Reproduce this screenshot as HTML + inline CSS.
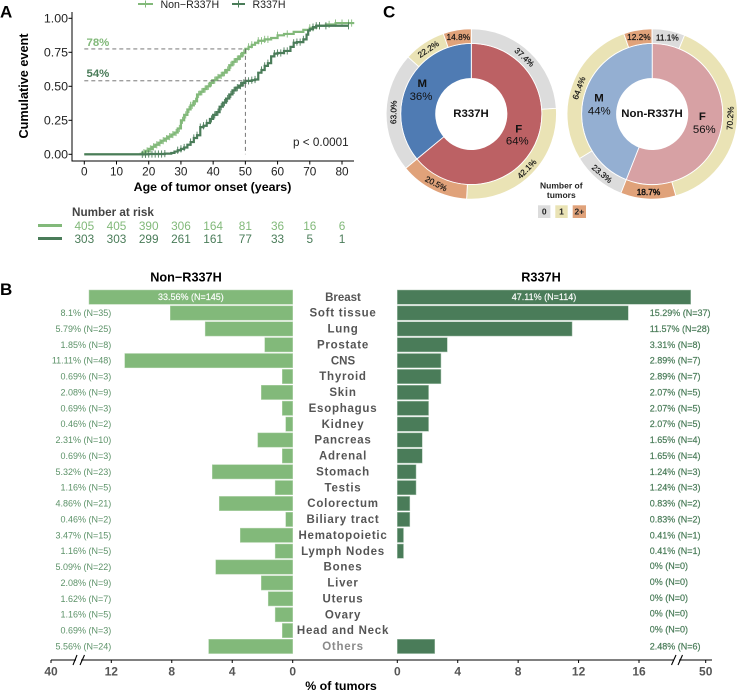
<!DOCTYPE html>
<html lang="en">
<head>
<meta charset="utf-8">
<title>R337H tumor onset figure</title>
<style>
html,body{margin:0;padding:0;background:#fff}
svg{display:block;font-family:"Liberation Sans",Arial,sans-serif}
</style>
</head>
<body>
<svg id="fig" xmlns="http://www.w3.org/2000/svg" width="738" height="691" viewBox="0 0 738 691">
  <text x="0" y="17.5" font-size="17" font-weight="bold" fill="#000">A</text>
  <text x="0" y="295" font-size="17" font-weight="bold" fill="#000">B</text>
  <text x="383" y="17.5" font-size="17" font-weight="bold" fill="#000">C</text>

  <g>
    <line x1="138" x2="153" y1="4" y2="4" stroke="#82B97A" stroke-width="2"/>
    <line x1="145.5" x2="145.5" y1="0.5" y2="7.5" stroke="#82B97A" stroke-width="1"/>
    <text x="160.5" y="8" font-size="10.6" fill="#222">Non−R337H</text>
    <line x1="232" x2="245" y1="4" y2="4" stroke="#4A7C59" stroke-width="2"/>
    <line x1="238.5" x2="238.5" y1="0.5" y2="7.5" stroke="#4A7C59" stroke-width="1"/>
    <text x="252.5" y="8" font-size="10.6" fill="#222">R337H</text>
  </g>

  <g id="km"></g>
  <line x1="72" x2="72" y1="12" y2="161" stroke="#000" stroke-width="1"/>
  <line x1="71.5" x2="354" y1="161" y2="161" stroke="#000" stroke-width="1"/>
  <text transform="translate(28,86) rotate(-90)" text-anchor="middle" font-size="12.7" font-weight="bold" fill="#000">Cumulative event</text>
  <text x="212.5" y="191" text-anchor="middle" font-size="12.4" font-weight="bold" fill="#000">Age of tumor onset (years)</text>
  <text x="293" y="146" font-size="11.7" fill="#222">p &lt; 0.0001</text>
  <text x="86.5" y="46" font-size="11.4" font-weight="bold" fill="#82B97A">78%</text>
  <text x="86.5" y="77" font-size="11.4" font-weight="bold" fill="#4A7C59">54%</text>

  <g id="risk">
    <text x="72" y="216" font-size="11.7" font-weight="bold" fill="#444">Number at risk</text>
    <line x1="38" x2="62" y1="225.5" y2="225.5" stroke="#82B97A" stroke-width="3"/>
    <line x1="38" x2="62" y1="238.5" y2="238.5" stroke="#4A7C59" stroke-width="3"/>
  </g>

  <g id="donuts"></g>
  <g>
    <text x="561.3" y="188.5" text-anchor="middle" font-size="8.5" font-weight="bold" fill="#222">Number of</text>
    <text x="561.3" y="198" text-anchor="middle" font-size="8.5" font-weight="bold" fill="#222">tumors</text>
    <rect x="538" y="205.3" width="12.4" height="12.7" fill="#DCDCDC"/>
    <rect x="555.3" y="205.3" width="12.4" height="12.7" fill="#EAE3B5"/>
    <rect x="572.7" y="205.3" width="13.3" height="12.7" fill="#E0A27A"/>
    <text x="544.2" y="214.6" text-anchor="middle" font-size="8.5" font-weight="bold" fill="#222">0</text>
    <text x="561.5" y="214.6" text-anchor="middle" font-size="8.5" font-weight="bold" fill="#222">1</text>
    <text x="579.3" y="214.6" text-anchor="middle" font-size="8.5" font-weight="bold" fill="#222">2+</text>
  </g>

  <text x="186" y="281.5" text-anchor="middle" font-size="12.7" font-weight="bold" fill="#000">Non−R337H</text>
  <text x="541" y="281.5" text-anchor="middle" font-size="12.7" font-weight="bold" fill="#000">R337H</text>
  <g id="bars"></g>
  <line x1="51" x2="712" y1="660" y2="660" stroke="#000" stroke-width="1.1"/>
  <g id="barAxis"></g>
  <g>
    <rect x="76" y="658" width="5" height="4" fill="#fff"/>
    <line x1="73" y1="665" x2="77" y2="655" stroke="#000" stroke-width="1.1"/>
    <line x1="80" y1="665" x2="84.5" y2="655" stroke="#000" stroke-width="1.1"/>
    <rect x="674" y="658" width="5" height="4" fill="#fff"/>
    <line x1="671.5" y1="665" x2="676" y2="655" stroke="#000" stroke-width="1.1"/>
    <line x1="678" y1="665" x2="682.5" y2="655" stroke="#000" stroke-width="1.1"/>
  </g>
  <text x="341" y="690" text-anchor="middle" font-size="12.4" font-weight="bold" fill="#000">% of tumors</text>
</svg>

<script>
// ---- Panel A data ----
const kmAgesLight = [17.5,18,19,20,21,22,23,24,25,26,27,28,29,30,31,32,33,34,35,36,37,38,39,40,41,42,43,44,45,46,47,48,49,50,51,52,53,54,56,58,60,62,65,68,70,72,75,78];
const kmValuesLight = [0.003,0.012,0.025,0.04,0.055,0.07,0.085,0.10,0.115,0.13,0.145,0.16,0.19,0.25,0.29,0.33,0.36,0.39,0.44,0.46,0.48,0.50,0.525,0.545,0.565,0.58,0.60,0.62,0.655,0.68,0.70,0.72,0.745,0.775,0.79,0.805,0.82,0.835,0.845,0.855,0.875,0.885,0.90,0.915,0.93,0.945,0.955,0.965];
const kmEndLight = 83.8;
const kmAgesDark = [20,25,27,28,29,30,31,32,33,34,35,36,37,38,39,40,41,42,43,44,45,46,47,48,49,50,52,53,54,55,56,57,58,59,60,62,64,65,66,68,69,69.5,70,71,72];
const kmValuesDark = [0.002,0.005,0.01,0.02,0.03,0.04,0.05,0.07,0.09,0.12,0.14,0.20,0.21,0.23,0.26,0.29,0.31,0.35,0.38,0.41,0.44,0.47,0.49,0.505,0.525,0.54,0.545,0.55,0.60,0.62,0.65,0.67,0.72,0.74,0.745,0.76,0.79,0.82,0.825,0.845,0.88,0.91,0.92,0.935,0.945];
const kmEndDark = 82;
const censorLight = [18.5,19.5,20.5,21.5,22.5,23.5,24.5,25.5,26.5,27.5,28.5,29.5,30.5,31.5,32.5,33,33.5,34.5,35.5,36.5,37.5,38.5,39.5,40.5,41.5,42.5,43.5,44.5,45.5,46.5,47.5,48.5,49.5,51,52,54,55,56,57,60,63,70,71,73,76,78,80,82,83];
const censorDark = [18,19,20,21,22,23,24,25,29,30,31,33,34,35,36,37,38,39.5,40.5,41.5,42.5,43.5,44.5,45.5,46.5,47.5,48.5,49.5,51,52,53,55,56,57,59,60,61,62,63,65,66,67,68,71,72,73,75,82];
const kmXTicks = [0,10,20,30,40,50,60,70,80];
const kmYTicks = ['0.00','0.25','0.50','0.75','1.00'];
const refAge = [50];
const refLight = [0.775];
const refDark = [0.54];
const riskLight = [405,405,390,306,164,81,36,16,6];
const riskDark = [303,303,299,261,161,77,33,5,1];

// ---- Panel C data ----
const sexNames = ['F','M'];
const sexShareR337H = [64,36];
const sexShareNon = [56,44];
const tumorCountsR337HF = [37.4,42.1,20.5];
const tumorCountsR337HM = [63.0,22.2,14.8];
const tumorCountsNonF = [11.1,70.2,18.7];
const tumorCountsNonM = [23.3,64.4,12.2];

// ---- Panel B data ----
const sites = ['Breast','Soft tissue','Lung','Prostate','CNS','Thyroid','Skin','Esophagus','Kidney','Pancreas','Adrenal','Stomach','Testis','Colorectum','Biliary tract','Hematopoietic','Lymph Nodes','Bones','Liver','Uterus','Ovary','Head and Neck','Others'];
const pctNon = [33.56,8.1,5.79,1.85,11.11,0.69,2.08,0.69,0.46,2.31,0.69,5.32,1.16,4.86,0.46,3.47,1.16,5.09,2.08,1.62,1.16,0.69,5.56];
const countNon = [145,35,25,8,48,3,9,3,2,10,3,23,5,21,2,15,5,22,9,7,5,3,24];
const pctR337H = [47.11,15.29,11.57,3.31,2.89,2.89,2.07,2.07,2.07,1.65,1.65,1.24,1.24,0.83,0.83,0.41,0.41,0,0,0,0,0,2.48];
const countR337H = [114,37,28,8,7,7,5,5,5,4,4,3,3,2,2,1,1,0,0,0,0,0,6];
const barTicksLeft = [0,4,8,12,40];
const barTicksRight = [0,4,8,12,16,50];

const NS = 'http://www.w3.org/2000/svg';
function mk(parent, tag, attrs, txt) {
  const el = document.createElementNS(NS, tag);
  for (const k in attrs) el.setAttribute(k, attrs[k]);
  if (txt !== undefined) el.textContent = txt;
  parent.appendChild(el);
  return el;
}
const LIGHT = '#82B97A', DARK = '#4A7C59';

// ---- Panel A ----
const xAge = a => 84.3 + a * 3.2213;
const yCum = v => 154.3 - v * 136;
const km = document.getElementById('km');

kmXTicks.forEach(t => {
  const tick = mk(km, 'line', {x1: xAge(t), x2: xAge(t), y1: 161, y2: 164.5, stroke: '#000', 'stroke-width': 1});
  
  
  const lab = mk(km, 'text', {x: xAge(t), y: 175.5, 'text-anchor': 'middle', 'font-size': 11.8, fill: '#222'}, t);
  
  
});
kmYTicks.forEach(t => {
  const y = yCum(parseFloat(t));
  const tick = mk(km, 'line', {x1: 68.5, x2: 72, y1: y, y2: y, stroke: '#000', 'stroke-width': 1});
  
  
  const lab = mk(km, 'text', {x: 68, y: y + 4.2, 'text-anchor': 'end', 'font-size': 12.4, fill: '#222'}, t);
  
  
});

function stepPath(ages, vals, end) {
  let d = 'M' + xAge(0) + ' ' + yCum(0);
  ages.forEach((a, i) => { d += 'H' + xAge(a) + 'V' + yCum(vals[i]); });
  return d + 'H' + xAge(end);
}
function stepValue(ages, vals, age) {
  let v = 0;
  ages.forEach((a, i) => { if (a <= age) v = vals[i]; });
  return v;
}
function drawCensor(list, ages, vals, color) {
  list.forEach(a => {
    const x = xAge(a), y = yCum(stepValue(ages, vals, a));
    const c = mk(km, 'line', {x1: x, x2: x, y1: y - 3.6, y2: y + 3.6, stroke: color, 'stroke-width': 0.9});
    
    
  });
}
const lineLight = mk(km, 'path', {d: stepPath(kmAgesLight, kmValuesLight, kmEndLight), fill: 'none', stroke: LIGHT, 'stroke-width': 2.2});


drawCensor(censorLight, kmAgesLight, kmValuesLight, LIGHT);
const lineDark = mk(km, 'path', {d: stepPath(kmAgesDark, kmValuesDark, kmEndDark), fill: 'none', stroke: DARK, 'stroke-width': 2.2});


drawCensor(censorDark, kmAgesDark, kmValuesDark, DARK);

const dashAttrs = {stroke: '#666', 'stroke-width': 0.9, 'stroke-dasharray': '4 3', fill: 'none'};
const refH1 = mk(km, 'line', Object.assign({x1: xAge(0), x2: xAge(refAge[0]), y1: yCum(refLight[0]), y2: yCum(refLight[0])}, dashAttrs));


const refH2 = mk(km, 'line', Object.assign({x1: xAge(0), x2: xAge(refAge[0]), y1: yCum(refDark[0]), y2: yCum(refDark[0])}, dashAttrs));


const refV = mk(km, 'line', Object.assign({x1: xAge(refAge[0]), x2: xAge(refAge[0]), y1: yCum(refLight[0]), y2: yCum(0)}, dashAttrs));



const risk = document.getElementById('risk');
kmXTicks.forEach((t, i) => {
  const a = mk(risk, 'text', {x: xAge(t), y: 230, 'text-anchor': 'middle', 'font-size': 11.8, fill: '#82B97A'}, riskLight[i]);
  
  
  const b = mk(risk, 'text', {x: xAge(t), y: 243, 'text-anchor': 'middle', 'font-size': 11.8, fill: '#4A7C59'}, riskDark[i]);
  
  
});

// ---- Panel C ----
const donuts = document.getElementById('donuts');
const ringColors = ['#DCDCDC', '#EAE3B5', '#E0A27A'];
function pt(cx, cy, r, deg) {
  const t = deg * Math.PI / 180;
  return [cx + r * Math.sin(t), cy - r * Math.cos(t)];
}
function sector(cx, cy, r0, r1, a0, a1) {
  const large = a1 - a0 > 180 ? 1 : 0;
  const p0 = pt(cx, cy, r1, a0), p1 = pt(cx, cy, r1, a1), p2 = pt(cx, cy, r0, a1), p3 = pt(cx, cy, r0, a0);
  return `M${p0[0]} ${p0[1]}A${r1} ${r1} 0 ${large} 1 ${p1[0]} ${p1[1]}L${p2[0]} ${p2[1]}A${r0} ${r0} 0 ${large} 0 ${p3[0]} ${p3[1]}Z`;
}
function drawRing(cx, cy, start, span, shares, boldIndex) {
  let a = start;
  shares.forEach((s, i) => {
    const sweep = span * s / 100;
    const seg = mk(donuts, 'path', {d: sector(cx, cy, 70.6, 85.2, a, a + sweep), fill: ringColors[i], stroke: '#fff', 'stroke-width': 0.9});
    
    
    const mid = a + sweep / 2;
    const p = pt(cx, cy, 77.9, mid);
    let rot = mid > 90 && mid < 270 ? mid - 180 : (mid >= 270 ? mid - 360 : mid);
    if (Math.abs(rot) < 14) rot = 0;
    const lab = mk(donuts, 'text', {
      transform: `translate(${p[0]},${p[1]}) rotate(${rot})`, 'text-anchor': 'middle', 'dominant-baseline': 'central',
      'font-size': 8.3, fill: '#111', stroke: '#111', 'stroke-width': i === boldIndex ? 0.45 : 0.2
    }, s.toFixed(1) + '%');
    
    
    a += sweep;
  });
}
function drawDonut(cx, cy, share, fColor, mColor, ringF, ringM, boldIdx) {
  const fEnd = 360 * share[0] / 100;
  const f = mk(donuts, 'path', {d: sector(cx, cy, 35.6, 70.6, 0, fEnd), fill: fColor, stroke: '#fff', 'stroke-width': 0.9});
  
  
  const m = mk(donuts, 'path', {d: sector(cx, cy, 35.6, 70.6, fEnd, 360), fill: mColor, stroke: '#fff', 'stroke-width': 0.9});
  
  
  drawRing(cx, cy, 0, fEnd, ringF, boldIdx);
  drawRing(cx, cy, fEnd, 360 - fEnd, ringM, -1);
}
drawDonut(471.3, 114, sexShareR337H, '#BC6164', '#4F7BB3', tumorCountsR337HF, tumorCountsR337HM, -1);
drawDonut(652.2, 114, sexShareNon, '#D7A1A4', '#94AFD2', tumorCountsNonF, tumorCountsNonM, 2);

function donutText(x, y, txt, size, bold, name) {
  const t = mk(donuts, 'text', {x: x, y: y, 'text-anchor': 'middle', 'dominant-baseline': 'central', 'font-size': size, 'font-weight': bold ? 'bold' : 'normal', fill: '#111'}, txt);
  
  
}
donutText(471, 114, 'R337H', 11.4, true, 'donut-center-r337h');
donutText(652, 114, 'Non-R337H', 11.4, true, 'donut-center-non-r337h');
donutText(422.3, 84, sexNames[1], 11.4, true, 'donut-sex-label');
donutText(421, 97, sexShareR337H[1] + '%', 11.4, false, 'donut-sex-percent');
donutText(518.7, 129.3, sexNames[0], 11.4, true, 'donut-sex-label');
donutText(517.3, 141.7, sexShareR337H[0] + '%', 11.4, false, 'donut-sex-percent');
donutText(599, 98.3, sexNames[1], 11.4, true, 'donut-sex-label');
donutText(599.3, 111.3, sexShareNon[1] + '%', 11.4, false, 'donut-sex-percent');
donutText(702.3, 117, sexNames[0], 11.4, true, 'donut-sex-label');
donutText(704.3, 130, sexShareNon[0] + '%', 11.4, false, 'donut-sex-percent');

// ---- Panel B ----
const bars = document.getElementById('bars');
const barAxis = document.getElementById('barAxis');
const rowY = i => 297.15 + i * 15.876;
const BAR_H = 14.3;
// Broken axes: linear to the break, then compressed.
function xLeft(v) {
  if (v <= 12) return 292.7 - v * 15.117;
  if (v <= 33.56) return 111.3 - (v - 12) * (111.3 - 89) / 21.56;
  return 89 - (v - 33.56) * (89 - 51) / 6.44;
}
function xRight(v) {
  if (v <= 16) return 397.3 + v * 15.106;
  if (v <= 47.11) return 639 + (v - 16) * (690.7 - 639) / 31.11;
  return 690.7 + (v - 47.11) * (705.7 - 690.7) / 2.89;
}
const noSpacing = ['Breast', 'CNS'];
sites.forEach((name, i) => {
  const y = rowY(i);
  const xl = xLeft(pctNon[i]);
  const bl = mk(bars, 'rect', {x: xl, y: y - BAR_H / 2, width: 292.7 - xl, height: BAR_H, fill: LIGHT, stroke: '#B5D5AF', 'stroke-width': 0.5});
  
  
  if (pctR337H[i] > 0) {
    const br = mk(bars, 'rect', {x: 397.3, y: y - BAR_H / 2, width: xRight(pctR337H[i]) - 397.3, height: BAR_H, fill: DARK, stroke: '#A9C4B0', 'stroke-width': 0.5});
    
    
  }
  const site = mk(bars, 'text', {
    x: 343, y: y + 0.7, 'text-anchor': 'middle', 'dominant-baseline': 'central', 'font-size': 11.5, 'font-weight': 'bold',
    fill: i === sites.length - 1 ? '#8A8A8A' : '#555', 'letter-spacing': noSpacing.includes(name) ? 0 : 0.75
  }, name);
  
  

  const txtL = pctNon[i] + '% (N=' + countNon[i] + ')';
  const txtR = pctR337H[i] + '% (N=' + countR337H[i] + ')';
  let ll;
  if (i === 0) {
    ll = mk(bars, 'text', {x: (xl + 292.7) / 2, y: y - 0.4, 'text-anchor': 'middle', 'dominant-baseline': 'central', 'font-size': 9, fill: '#fff', stroke: '#fff', 'stroke-width': 0.15}, txtL);
  } else {
    ll = mk(bars, 'text', {x: 111.3, y: y, 'text-anchor': 'end', 'dominant-baseline': 'central', 'font-size': 9, fill: '#5C9268'}, txtL);
  }
  
  
  let lr;
  if (i === 0) {
    lr = mk(bars, 'text', {x: (397.3 + xRight(pctR337H[i])) / 2, y: y - 0.4, 'text-anchor': 'middle', 'dominant-baseline': 'central', 'font-size': 9, fill: '#fff', stroke: '#fff', 'stroke-width': 0.15}, txtR);
  } else {
    lr = mk(bars, 'text', {x: 649.7, y: pctR337H[i] === 0 ? y - 1 : y, 'dominant-baseline': 'central', 'font-size': 9, fill: DARK, stroke: DARK, 'stroke-width': 0.2}, txtR);
  }
  
  
});
function drawBarTick(x, label) {
  const t = mk(barAxis, 'line', {x1: x, x2: x, y1: 660, y2: 663, stroke: '#000', 'stroke-width': 1});
  
  
  const l = mk(barAxis, 'text', {x: x, y: 675.5, 'text-anchor': 'middle', 'font-size': 12, 'font-weight': 'bold', fill: '#555'}, label);
  
  
}
barTicksLeft.forEach(v => drawBarTick(xLeft(v), v));
barTicksRight.forEach(v => drawBarTick(xRight(v), v));
</script>
</body>
</html>
